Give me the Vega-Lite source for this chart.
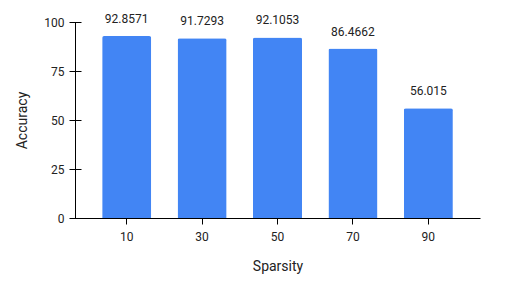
{
  "$schema": "https://vega.github.io/schema/vega-lite/v6.json",
  "width": 405,
  "height": 196,
  "autosize": {"type": "none"},
  "padding": {"left": 75, "top": 22, "right": 51, "bottom": 69},
  "background": "white",
  "config": {
    "view": {"stroke": null},
    "font": "Roboto",
    "axis": {"grid": false, "domainColor": "#000000", "tickColor": "#000000", "labelColor": "#222222", "titleColor": "#222222", "labelFont": "Roboto", "titleFont": "Roboto", "labelFontSize": 12, "titleFontSize": 14, "titleFontWeight": "normal"}
  },
  "data": {"values": [
    {"Sparsity": "10", "Accuracy": 92.8571},
    {"Sparsity": "30", "Accuracy": 91.7293},
    {"Sparsity": "50", "Accuracy": 92.1053},
    {"Sparsity": "70", "Accuracy": 86.4662},
    {"Sparsity": "90", "Accuracy": 56.015}
  ]},
  "layer": [
    {
      "mark": {"type": "bar", "color": "#4285F4", "cornerRadiusTopLeft": 2, "cornerRadiusTopRight": 2},
      "encoding": {
        "x": {"field": "Sparsity", "type": "ordinal", "sort": null,
              "scale": {"paddingInner": 0.35, "paddingOuter": 0.36},
              "axis": {"orient": "bottom", "labelAngle": 0, "domain": false, "offset": -6, "tickSize": 12, "labelPadding": 7, "title": "Sparsity", "titlePadding": 17}},
        "y": {"field": "Accuracy", "type": "quantitative",
              "scale": {"domain": [0, 100], "nice": false},
              "axis": {"orient": "left", "values": [0, 25, 50, 75, 100], "domain": false, "offset": -6, "tickSize": 12, "labelPadding": 5, "title": "Accuracy", "titlePadding": 14}}
      }
    },
    {
      "mark": {"type": "text", "baseline": "alphabetic", "dy": -13, "fontSize": 12, "color": "#222222", "font": "Roboto"},
      "encoding": {
        "x": {"field": "Sparsity", "type": "ordinal", "sort": null,
              "axis": {"orient": "bottom", "ticks": false, "labels": false, "domain": true, "title": null}},
        "y": {"field": "Accuracy", "type": "quantitative",
              "axis": {"orient": "left", "ticks": false, "labels": false, "domain": true, "title": null}},
        "text": {"field": "Accuracy", "type": "quantitative"}
      }
    }
  ],
  "resolve": {"axis": {"x": "independent", "y": "independent"}}
}
